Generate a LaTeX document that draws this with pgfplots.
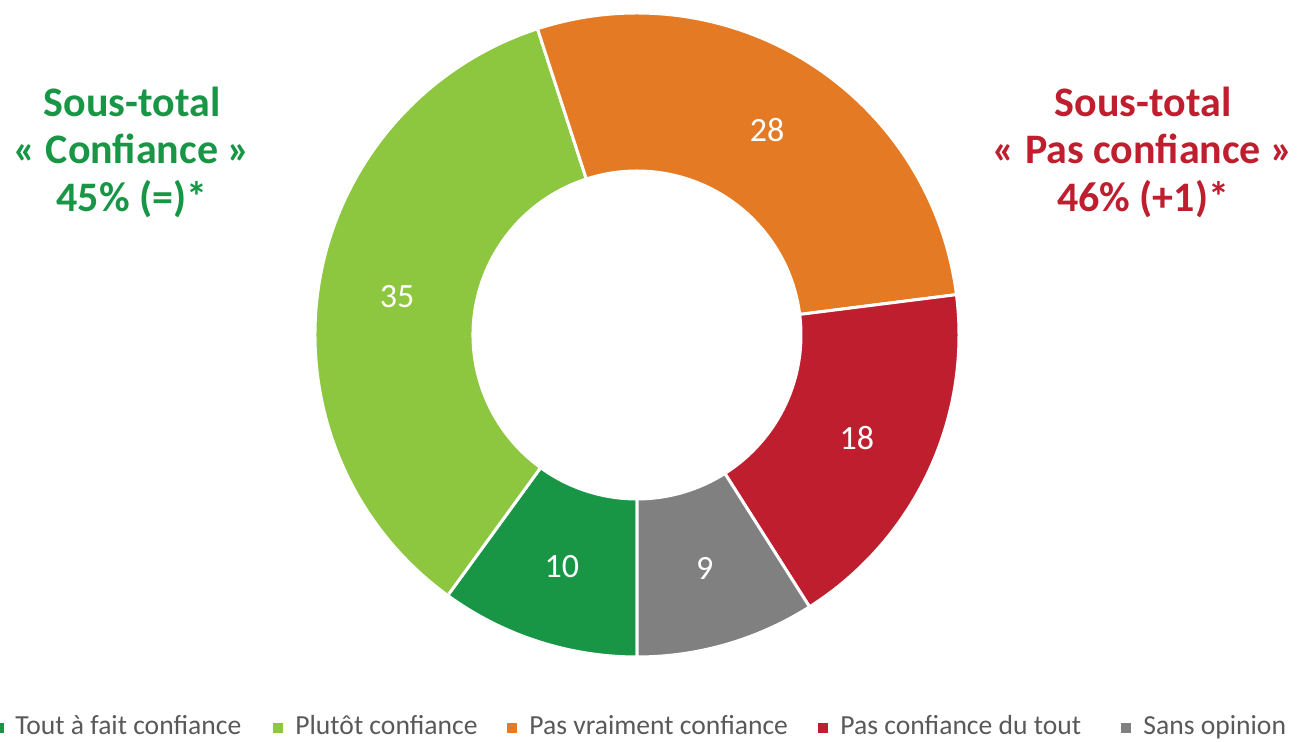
\documentclass[border=0pt]{standalone}
\usepackage{fontspec}
\setmainfont{Carlito}
\usepackage{pgfplots}
\usepackage{pgfplotstable}
\pgfplotsset{compat=1.18}

\definecolor{seg0}{RGB}{24,150,70}
\definecolor{seg1}{RGB}{141,198,63}
\definecolor{seg2}{RGB}{229,122,37}
\definecolor{seg3}{RGB}{190,30,46}
\definecolor{seg4}{RGB}{128,128,128}
\definecolor{legtext}{RGB}{89,89,89}

% values in percent, clockwise from the bottom
\pgfplotstableread{
value
10
35
28
18
9
}\donutdata

\newcommand\labelfont{\fontsize{17pt}{20pt}\selectfont}
\newcommand\titlefont{\fontsize{21pt}{23.5pt}\selectfont\bfseries}
\newcommand\legfont{\fontsize{13.8pt}{16pt}\selectfont}

\begin{document}
\begin{tikzpicture}
% compute segment angles from the data
\xdef\startang{270}
\pgfplotsforeachungrouped \i in {0,...,4}{%
  \pgfplotstablegetelem{\i}{value}\of\donutdata
  \let\segval\pgfplotsretval
  \pgfmathsetmacro\sa{\startang}%
  \pgfmathsetmacro\ea{\startang-3.6*\segval}%
  \pgfmathsetmacro\ma{(\sa+\ea)/2}%
  \expandafter\xdef\csname segS\i\endcsname{\sa}%
  \expandafter\xdef\csname segE\i\endcsname{\ea}%
  \expandafter\xdef\csname segM\i\endcsname{\ma}%
  \expandafter\xdef\csname segV\i\endcsname{\segval}%
  \xdef\startang{\ea}%
}
\begin{axis}[
  x=0.5pt, y=0.5pt,
  xmin=0, xmax=1299, ymin=0, ymax=742,
  enlargelimits=false,
  hide axis, clip=false,
]
\coordinate (bl) at (axis cs:0,0);
\coordinate (tr) at (axis cs:1299,742);
\pgfplotsinvokeforeach{0,...,4}{%
  \edef\temp{\noexpand\fill[seg#1, draw=white, line width=1.5pt, line join=miter]
    ([shift={(\csname segS#1\endcsname:161pt)}]axis cs:637,407)
    arc[start angle=\csname segS#1\endcsname, end angle=\csname segE#1\endcsname, radius=161pt]
    -- ([shift={(\csname segE#1\endcsname:82pt)}]axis cs:637,407)
    arc[start angle=\csname segE#1\endcsname, end angle=\csname segS#1\endcsname, radius=82pt]
    -- cycle;
    \noexpand\node[text=white, font=\noexpand\labelfont, inner sep=0pt]
      at ([shift={(\csname segM#1\endcsname:121.5pt)}]axis cs:637,407) {\csname segV#1\endcsname};}%
  \temp
}
% subtotal titles
\node[anchor=base, text=seg0, font=\titlefont, inner sep=0pt] at (axis cs:132,625) {Sous-total};
\node[anchor=base, text=seg0, font=\titlefont, inner sep=0pt] at (axis cs:132,578) {« Confiance »};
\node[anchor=base, text=seg0, font=\titlefont, inner sep=0pt] at (axis cs:132,530) {45\% (=)*};
\node[anchor=base, text=seg3, font=\titlefont, inner sep=0pt] at (axis cs:1143,625) {Sous-total};
\node[anchor=base, text=seg3, font=\titlefont, inner sep=0pt] at (axis cs:1143,578) {« Pas confiance »};
\node[anchor=base, text=seg3, font=\titlefont, inner sep=0pt] at (axis cs:1143,530) {46\% (+1)*};
% legend
\fill[seg0] (axis cs:0,9) rectangle (axis cs:4,19);
\node[anchor=base west, text=legtext, font=\legfont, inner sep=0pt] at (axis cs:15,7) {Tout à fait confiance};
\fill[seg1] (axis cs:273,9) rectangle (axis cs:283,19);
\node[anchor=base west, text=legtext, font=\legfont, inner sep=0pt] at (axis cs:295,7) {Plutôt confiance};
\fill[seg2] (axis cs:507,9) rectangle (axis cs:517,19);
\node[anchor=base west, text=legtext, font=\legfont, inner sep=0pt] at (axis cs:529,7) {Pas vraiment confiance};
\fill[seg3] (axis cs:818,9) rectangle (axis cs:828,19);
\node[anchor=base west, text=legtext, font=\legfont, inner sep=0pt] at (axis cs:840,7) {Pas confiance du tout};
\fill[seg4] (axis cs:1121,9) rectangle (axis cs:1131,19);
\node[anchor=base west, text=legtext, font=\legfont, inner sep=0pt] at (axis cs:1143,7) {Sans opinion};
\end{axis}
\pgfresetboundingbox
\path[use as bounding box] (bl) rectangle (tr);
\end{tikzpicture}
\end{document}
